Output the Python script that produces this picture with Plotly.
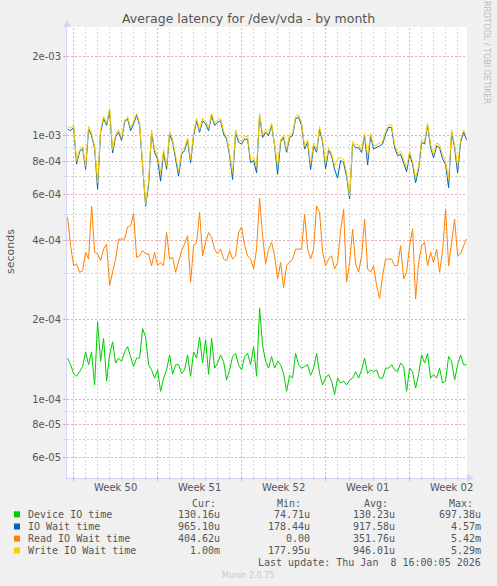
import plotly.graph_objects as go
import pandas as pd

# 6-hourly samples (values in microseconds)
times = pd.date_range("2025-12-07 12:00", periods=134, freq="6h")

device_io = [
    143, 135, 125, 122, 127, 133, 151, 135, 151, 113, 196, 139, 170, 117, 147, 165, 137, 143, 139, 151,
    158, 145, 133, 143, 143, 185, 172, 135, 129, 120, 129, 107, 120, 129, 147,
    124, 135, 135, 125, 129, 147, 122, 151, 143, 172, 137, 168, 124, 170, 131, 137, 147, 139, 118, 129,
    145, 149, 135, 129, 145, 149, 135, 158, 122, 222, 160, 139, 131, 145, 131,
    139, 135, 125, 107, 123, 120, 149, 135, 131, 133, 135, 123, 131, 149, 125, 113, 120, 124, 117, 104,
    120, 115, 117, 113, 118, 120, 127, 120, 129, 143, 125, 129, 127, 129, 120,
    120, 131, 131, 135, 129, 127, 137, 133, 107, 131, 127, 110, 124, 147, 137, 149, 120, 124, 120, 131,
    115, 117, 145, 139, 118, 135, 147, 135, 135,
]
io_wait = [
    1060, 1045, 1075, 780, 870, 895, 745, 1060, 1000, 895, 626, 1030, 1160, 1095, 1245, 860, 990, 1030, 960, 1125,
    1160, 1045, 1110, 1195, 1095, 770, 540, 650, 1030, 865, 815, 672, 865, 745, 1015,
    945, 815, 702, 850, 880, 960, 790, 1000, 1140, 1030, 1140, 1110, 1045, 1195, 1095, 1125, 1140, 1015, 970, 840,
    682, 1030, 945, 930, 970, 970, 790, 805, 722, 1195, 985, 1030, 1000, 1095, 915,
    713, 945, 985, 865, 985, 1000, 1160, 1175, 1095, 890, 945, 744, 915, 865, 1060, 945, 750, 880, 840, 745,
    690, 805, 790, 700, 575, 930, 900, 900, 865, 1000, 775, 1000, 890, 900, 915,
    930, 1015, 1075, 1075, 900, 840, 850, 790, 730, 850, 778, 663, 745, 945, 930, 1095, 900, 825, 915, 900,
    815, 778, 635, 1030, 900, 722, 945, 1030, 965,
]
read_wait = [
    490, 382, 321, 326, 303, 307, 361, 340, 541, 361, 356, 335, 371, 388, 270, 307, 340, 405, 405, 405,
    450, 455, 505, 345, 350, 366, 356, 356, 321, 361, 321, 330, 321, 429, 340,
    345, 303, 330, 366, 388, 417, 278, 382, 394, 511, 350, 394, 429, 411, 371, 356, 371, 340, 335, 366,
    340, 350, 429, 450, 382, 350, 340, 312, 371, 580, 417, 326, 371, 394, 350,
    286, 330, 265, 321, 330, 340, 371, 371, 371, 503, 371, 340, 371, 541, 511, 361, 321, 340, 350, 312,
    330, 435, 526, 278, 330, 441, 326, 303, 350, 482, 312, 303, 321, 270, 241,
    294, 340, 340, 340, 321, 321, 382, 286, 303, 382, 443, 240, 330, 382, 394, 321, 361, 330, 371, 303,
    366, 526, 321, 405, 482, 350, 356, 382, 405,
]
write_wait = [
    1084, 1069, 1100, 800, 885, 911, 766, 1084, 1023, 911, 663, 1053, 1183, 1116, 1272, 885, 1009, 1053, 980, 1149,
    1183, 1069, 1133, 1218, 1116, 790, 549, 672, 1053, 885, 836, 725, 885, 766, 1038,
    966, 836, 730, 873, 899, 980, 814, 1023, 1166, 1053, 1166, 1133, 1069, 1218, 1116, 1149, 1166, 1038, 994, 860,
    722, 1053, 966, 952, 994, 994, 814, 825, 766, 1218, 1009, 1053, 1023, 1116, 939,
    766, 966, 1009, 885, 1009, 1023, 1183, 1200, 1116, 911, 966, 780, 939, 885, 1084, 966, 784, 899, 860, 766,
    814, 825, 814, 725, 590, 952, 925, 925, 885, 1023, 836, 1023, 911, 925, 939,
    952, 1038, 1100, 1100, 925, 860, 873, 814, 755, 873, 800, 692, 766, 966, 952, 1116, 925, 848, 939, 925,
    848, 800, 682, 1053, 925, 766, 966, 1053, 1009,
]

names = ["Device IO time", "IO Wait time", "Read IO Wait time", "Write IO Wait time"]
colors = ["#00cc00", "#0066b3", "#ff8000", "#ffcc00"]
cur_vals = ["130.16u", "965.10u", "404.62u", "1.00m"]
min_vals = ["74.71u", "178.44u", "0.00", "177.95u"]
avg_vals = ["130.23u", "917.58u", "351.76u", "946.01u"]
max_vals = ["697.38u", "4.57m", "5.42m", "5.29m"]

ytick_vals = [6e-5, 8e-5, 1e-4, 2e-4, 4e-4, 6e-4, 8e-4, 1e-3, 2e-3]
ytick_text = ["6e-05", "8e-05", "1e-04", "2e-04", "4e-04", "6e-04", "8e-04", "1e-03", "2e-03"]
yminor_vals = [7e-5, 9e-5, 3e-4, 5e-4, 7e-4, 9e-4]
week_mids = ["2025-12-11 12:00", "2025-12-18 12:00", "2025-12-25 12:00", "2026-01-01 12:00", "2026-01-08 12:00"]
week_labels = ["Week 50", "Week 51", "Week 52", "Week 01", "Week 02"]
days = pd.date_range("2025-12-07", "2026-01-09", freq="D")

FONT = "DejaVu Sans"
MONO = "DejaVu Sans Mono"
TXT = "#555555"
MGRID = "#eba8a8"
GRID = "#d4d4d4"
AXIS = "#cfd6f8"
DASH = "2px,2px"

# plot area in pixels
L, R, T, B = 67, 467, 27, 478


def px(x):
    return (x - L) / (R - L)


def py(y):
    return (B - y) / (B - T)


fig = go.Figure()
for name, vals, col in zip(names, [device_io, io_wait, read_wait, write_wait], colors):
    fig.add_trace(go.Scatter(
        x=times, y=[v / 1e6 for v in vals], mode="lines", name=name,
        line=dict(color=col, width=1), showlegend=False,
    ))

ann = []
ann.append(dict(text="Average latency for /dev/vda - by month", x=px(248), y=py(19),
                font=dict(family=FONT, size=12.5, color=TXT)))
ann.append(dict(text="RRDTOOL / TOBI OETIKER", x=px(487), y=py(52), textangle=90,
                font=dict(family=FONT, size=8, color="#bbbbbb")))
ann.append(dict(text="seconds", x=px(10), y=py(252), textangle=-90,
                font=dict(family=FONT, size=11, color=TXT)))
for wm, wl in zip(week_mids, week_labels):
    ann.append(dict(text=wl, x=wm, xref="x", y=py(487),
                    font=dict(family=FONT, size=10, color=TXT)))

heads = ["Cur:", "Min:", "Avg:", "Max:"]
head_x = [190, 275, 362, 447]
val_x = [221.5, 311.5, 397, 482.5]
for h, hx in zip(heads, head_x):
    ann.append(dict(text=h, x=px(hx), y=py(503), xanchor="left",
                    font=dict(family=MONO, size=10, color=TXT)))
row_y = [514.3, 526.5, 538.6, 550.5]
for r, (name, ry) in enumerate(zip(names, row_y)):
    ann.append(dict(text=name, x=px(26), y=py(ry), xanchor="left",
                    font=dict(family=MONO, size=10, color=TXT)))
    for col_vals, vx in zip([cur_vals, min_vals, avg_vals, max_vals], val_x):
        ann.append(dict(text=col_vals[r], x=px(vx), y=py(ry), xanchor="right",
                        font=dict(family=MONO, size=10, color=TXT)))
ann.append(dict(text="Last update: Thu Jan \u00a08 16:00:05 2026", x=px(482.5), y=py(562.5),
                xanchor="right", font=dict(family=MONO, size=10, color=TXT)))
ann.append(dict(text="Munin 2.0.75", x=px(248), y=py(575),
                font=dict(family=FONT, size=8, color="#c8c8c8")))
for a in ann:
    a.setdefault("xref", "paper")
    a.setdefault("yref", "paper")
    a.setdefault("xanchor", "center")
    a["yanchor"] = "middle"
    a["showarrow"] = False

shapes = []
# vertical grid: gray per day, red on week boundaries (Mondays)
for d in days:
    col = MGRID if d.weekday() == 0 else GRID
    shapes.append(dict(type="line", xref="x", yref="paper", x0=d, x1=d, y0=0, y1=1,
                       layer="below", line=dict(color=col, width=1, dash=DASH)))
    shapes.append(dict(type="line", xref="x", yref="paper", x0=d, x1=d, y0=py(481), y1=py(478),
                       line=dict(color=col, width=1)))
for col, ry in zip(colors, row_y):
    shapes.append(dict(type="rect", xref="paper", yref="paper", x0=px(14), x1=px(20),
                       y0=py(ry + 3), y1=py(ry - 3), fillcolor=col, line=dict(width=0)))


def tri(pts):
    return "M " + " L ".join(f"{px(a):.4f},{py(b):.4f}" for a, b in pts) + " Z"


shapes.append(dict(type="path", xref="paper", yref="paper", path=tri([(63, 27), (71, 27), (67, 20)]),
                   fillcolor=AXIS, line=dict(width=0)))
shapes.append(dict(type="path", xref="paper", yref="paper", path=tri([(467, 474), (467, 482), (474, 478)]),
                   fillcolor=AXIS, line=dict(width=0)))

fig.update_layout(
    width=497, height=586,
    margin=dict(l=L, r=497 - R, t=T, b=586 - B),
    paper_bgcolor="#f0f0f0", plot_bgcolor="#ffffff",
    annotations=ann, shapes=shapes,
    xaxis=dict(
        type="date", range=["2025-12-07 10:48", "2026-01-09 18:48"],
        showticklabels=False, showgrid=False, ticks="",
        showline=True, linecolor=AXIS, linewidth=1, zeroline=False,
    ),
    yaxis=dict(
        type="log", range=[-4.300, -2.587],
        tickmode="array", tickvals=ytick_vals, ticktext=ytick_text,
        tickfont=dict(family=FONT, size=10, color=TXT),
        showgrid=True, gridcolor=MGRID, griddash=DASH, gridwidth=1,
        ticks="outside", ticklen=3, tickcolor=MGRID,
        showline=True, linecolor=AXIS, linewidth=1, zeroline=False,
        minor=dict(tickmode="array", tickvals=yminor_vals, showgrid=True, gridcolor=GRID, griddash=DASH,
                   ticks="outside", ticklen=2, tickcolor=GRID),
    ),
)

fig.write_html("out.html", config={"displayModeBar": False},
               post_script="document.body.style.margin='0';")
